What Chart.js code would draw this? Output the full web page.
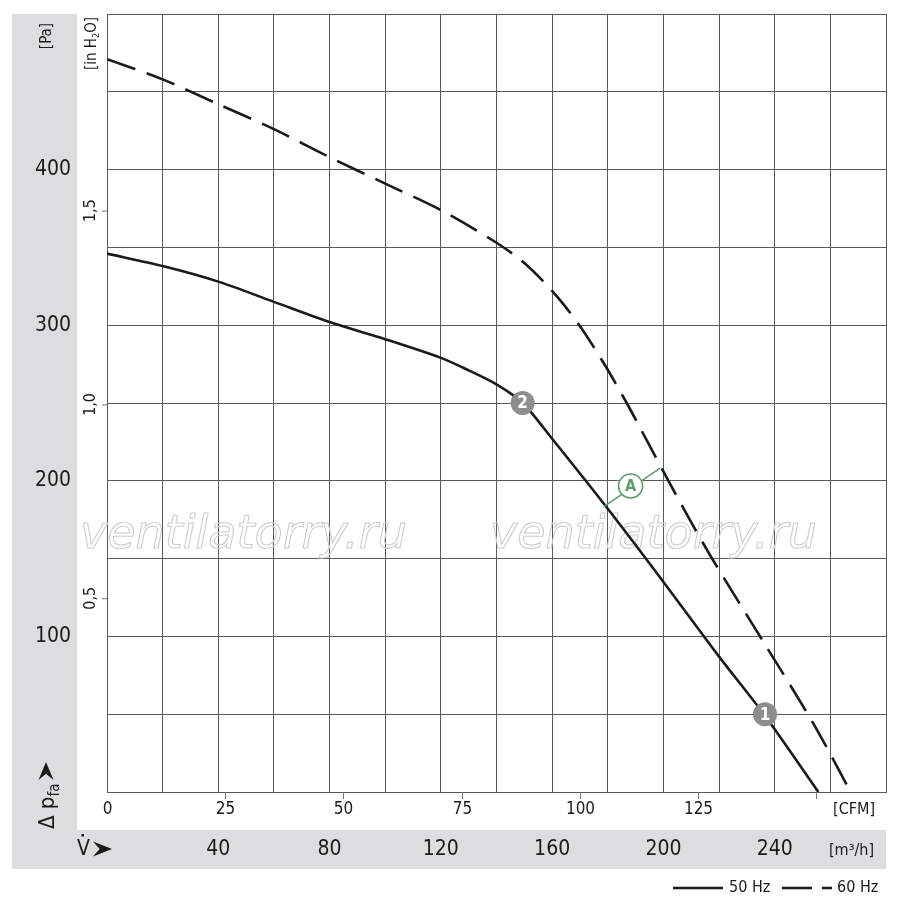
<!DOCTYPE html>
<html>
<head>
<meta charset="utf-8">
<title>Kennlinie</title>
<script src="https://cdn.jsdelivr.net/npm/chart.js@4.4.1/dist/chart.umd.min.js"></script>
<style>
  html, body { margin: 0; padding: 0; background: #fff; }
  #wrap { width: 900px; height: 902px; }
</style>
</head>
<body>
<div id="wrap"><canvas id="fanChart"></canvas></div>
<script>
// Kennlinie 50 Hz (x: m³/h, y: Pa)
const flow50  = [0, 20, 40, 60, 80, 100, 120, 130, 140, 149.4, 160, 180, 200, 220, 236.5, 255.7];
const press50 = [346, 338, 328, 315, 302, 291, 279, 271, 262, 250, 227, 182, 135, 87, 49, 0];

// Kennlinie 60 Hz
const flow60  = [0, 20, 40, 60, 80, 100, 120, 140, 150, 160, 169.4, 178.4, 186.8, 194.6, 202.4, 210.4, 218.5, 236.8, 253.9, 267.3];
const press60 = [471, 458, 442, 426, 408, 391, 374, 353, 340, 322, 301, 276, 250, 224, 198, 172, 147, 94, 44, 0];

// Betriebspunkte
const pointLabels = ['2', '1'];
const pointFlow   = [149.4, 236.5];
const pointPress  = [250, 50];

// Kennzeichnung A (Verbindung zwischen den Kurven)
const lineAFlow  = [178.6, 198.8];
const lineAPress = [183.4, 208.1];
const markA      = [188.2, 196.7];

// Achsen
const flowMax = 280, flowStep = 20;
const pressMax = 500, pressStep = 50;
const paTicks = [100, 200, 300, 400];
const m3hTicks = [40, 80, 120, 160, 200, 240];
const cfmTicks = [0, 25, 50, 75, 100, 125, 150];
const cfmLabels = ['0', '25', '50', '75', '100', '125', ''];
const inTicks = [0.5, 1.0, 1.5];
const inLabels = ['0,5', '1,0', '1,5'];

const CFM_TO_M3H = 1.699;
const INH2O_TO_PA = 249.09;

const narrow = '"Liberation Sans Narrow", "DejaVu Sans Condensed", "Liberation Sans", sans-serif';
const ink = '#1a1a1a';
const green = '#5e9b6c';

const toXY = (xs, ys) => xs.map((x, i) => ({ x: x, y: ys[i] }));

function arrowRight(c, tipX, tipY, len, half) {
    c.beginPath();
    c.moveTo(tipX, tipY);
    c.lineTo(tipX - len, tipY - half);
    c.lineTo(tipX - len * 0.65, tipY);
    c.lineTo(tipX - len, tipY + half);
    c.closePath();
    c.fill();
}

function arrowUp(c, tipX, tipY, len, half) {
    c.beginPath();
    c.moveTo(tipX, tipY);
    c.lineTo(tipX - half, tipY + len);
    c.lineTo(tipX, tipY + len * 0.65);
    c.lineTo(tipX + half, tipY + len);
    c.closePath();
    c.fill();
}

const decor = {
    id: 'decor',
    beforeDraw(chart) {
        const c = chart.ctx, a = chart.chartArea;
        c.save();
        c.fillStyle = '#fff';
        c.fillRect(0, 0, chart.width, chart.height);
        c.fillStyle = '#dcdddf';
        c.fillRect(12, a.top, 65, 869 - a.top);
        c.fillRect(12, 830, a.right - 12, 39);
        c.restore();
    },
    beforeDatasetsDraw(chart) {
        // Wasserzeichen
        const c = chart.ctx;
        c.save();
        c.font = 'oblique 46px "DejaVu Sans", sans-serif';
        c.strokeStyle = '#cdcdcd';
        c.lineWidth = 1.1;
        c.textBaseline = 'alphabetic';
        c.strokeText('ventilatorry.ru', 80, 548);
        c.strokeText('ventilatorry.ru', 490, 548);
        c.restore();
    },
    afterDraw(chart) {
        const c = chart.ctx, a = chart.chartArea;
        const xs = chart.scales.x, ys = chart.scales.y;
        c.save();
        c.fillStyle = ink;

        // Pa
        c.font = '21px ' + narrow;
        c.textAlign = 'right';
        c.textBaseline = 'middle';
        paTicks.forEach(v => c.fillText(String(v), 71, ys.getPixelForValue(v)));

        // [Pa]
        c.save();
        c.translate(47, 36);
        c.rotate(-Math.PI / 2);
        c.font = '15px ' + narrow;
        c.textAlign = 'center';
        c.fillText('[Pa]', 0, 0);
        c.restore();

        // [in H2O]
        c.save();
        c.translate(96, 70);
        c.rotate(-Math.PI / 2);
        c.font = '15px ' + narrow;
        c.textAlign = 'left';
        c.textBaseline = 'alphabetic';
        let w = 0;
        c.fillText('[in H', w, 0); w += c.measureText('[in H').width;
        c.font = '9px ' + narrow;
        c.fillText('2', w, 3); w += c.measureText('2').width;
        c.font = '15px ' + narrow;
        c.fillText('O]', w, 0);
        c.restore();

        // in H2O Teilung
        c.strokeStyle = '#777';
        c.lineWidth = 1;
        inTicks.forEach((v, i) => {
            const y = ys.getPixelForValue(v * INH2O_TO_PA);
            c.beginPath();
            c.moveTo(a.left - 5, y + 0.5);
            c.lineTo(a.left, y + 0.5);
            c.stroke();
            c.save();
            c.translate(91, y);
            c.rotate(-Math.PI / 2);
            c.font = '16px ' + narrow;
            c.textAlign = 'center';
            c.textBaseline = 'middle';
            c.fillText(inLabels[i], 0, 0);
            c.restore();
        });

        // CFM
        c.font = '17px ' + narrow;
        c.textAlign = 'center';
        c.textBaseline = 'middle';
        cfmTicks.forEach((v, i) => {
            const x = Math.round(xs.getPixelForValue(v * CFM_TO_M3H)) + 0.5;
            if (v > 0) {
                c.beginPath();
                c.moveTo(x, a.bottom);
                c.lineTo(x, a.bottom + 7);
                c.stroke();
            }
            if (cfmLabels[i]) c.fillText(cfmLabels[i], x, 810);
        });
        c.font = '16px ' + narrow;
        c.textAlign = 'right';
        c.fillText('[CFM]', 875, 810);

        // m³/h
        c.font = '21px ' + narrow;
        c.textAlign = 'center';
        m3hTicks.forEach(v => c.fillText(String(v), xs.getPixelForValue(v), 850));
        c.font = '16px ' + narrow;
        c.textAlign = 'right';
        c.fillText('[m³/h]', 874, 851);

        // V-Punkt mit Pfeil
        c.font = '21px ' + narrow;
        c.textAlign = 'left';
        c.fillText('V', 77, 850);
        c.fillRect(81.5, 834, 2.5, 2.5);
        arrowRight(c, 112, 849, 19, 7.5);

        // Δ p_fa mit Pfeil
        c.save();
        c.translate(54, 829);
        c.rotate(-Math.PI / 2);
        c.textAlign = 'left';
        c.textBaseline = 'alphabetic';
        c.font = '22px ' + narrow;
        w = 0;
        c.fillText('Δ', w, 0); w += c.measureText('Δ ').width;
        c.fillText('p', w, 0); w += c.measureText('p').width;
        c.font = '15px ' + narrow;
        c.fillText('fa', w, 5);
        c.restore();
        arrowUp(c, 46, 762, 18, 7.5);

        // Betriebspunkte Nummern
        c.fillStyle = '#fff';
        c.font = 'bold 17px ' + narrow;
        c.textAlign = 'center';
        c.textBaseline = 'middle';
        pointLabels.forEach((t, i) => {
            c.fillText(t, xs.getPixelForValue(pointFlow[i]), ys.getPixelForValue(pointPress[i]) + 1);
        });
        c.fillStyle = green;
        c.font = 'bold 16px ' + narrow;
        c.fillText('A', xs.getPixelForValue(markA[0]), ys.getPixelForValue(markA[1]) + 1);

        // Legende
        c.strokeStyle = ink;
        c.lineWidth = 2.5;
        c.beginPath();
        c.moveTo(673, 888); c.lineTo(723, 888);
        c.stroke();
        c.setLineDash([30, 10]);
        c.beginPath();
        c.moveTo(782, 888); c.lineTo(832, 888);
        c.stroke();
        c.setLineDash([]);
        c.fillStyle = ink;
        c.font = '16px ' + narrow;
        c.textAlign = 'left';
        c.fillText('50 Hz', 729, 888);
        c.fillText('60 Hz', 837, 888);
        c.restore();
    }
};

const ctx = document.getElementById('fanChart').getContext('2d');
new Chart(ctx, {
    type: 'scatter',
    data: {
        datasets: [
            {
                label: '50 Hz',
                data: toXY(flow50, press50),
                showLine: true,
                borderColor: ink,
                borderWidth: 2.6,
                pointRadius: 0,
                tension: 0.3,
                order: 3
            },
            {
                label: '60 Hz',
                data: toXY(flow60, press60),
                showLine: true,
                borderColor: ink,
                borderWidth: 2.6,
                borderDash: [30, 12],
                pointRadius: 0,
                tension: 0.3,
                order: 3
            },
            {
                label: 'A',
                data: toXY(lineAFlow, lineAPress),
                showLine: true,
                borderColor: green,
                borderWidth: 1.5,
                pointRadius: 0,
                order: 2
            },
            {
                label: 'A-Kreis',
                data: [{ x: markA[0], y: markA[1] }],
                pointRadius: 12,
                pointBackgroundColor: '#fff',
                pointBorderColor: green,
                pointBorderWidth: 1.6,
                order: 1
            },
            {
                label: 'Punkte',
                data: toXY(pointFlow, pointPress),
                pointRadius: 12,
                pointBackgroundColor: '#8d8d8d',
                pointBorderWidth: 0,
                order: 1
            }
        ]
    },
    options: {
        responsive: true,
        maintainAspectRatio: false,
        animation: false,
        layout: { padding: { left: 107, top: 14, right: 14, bottom: 110 } },
        plugins: {
            legend: { display: false },
            tooltip: { enabled: false }
        },
        scales: {
            x: {
                type: 'linear',
                min: 0,
                max: flowMax,
                ticks: { stepSize: flowStep, display: false },
                grid: { color: '#5a5a5a', lineWidth: 1, drawTicks: false },
                border: { color: '#5a5a5a' }
            },
            y: {
                type: 'linear',
                min: 0,
                max: pressMax,
                ticks: { stepSize: pressStep, display: false },
                grid: { color: '#5a5a5a', lineWidth: 1, drawTicks: false },
                border: { color: '#5a5a5a' }
            }
        }
    },
    plugins: [decor]
});
</script>
</body>
</html>
